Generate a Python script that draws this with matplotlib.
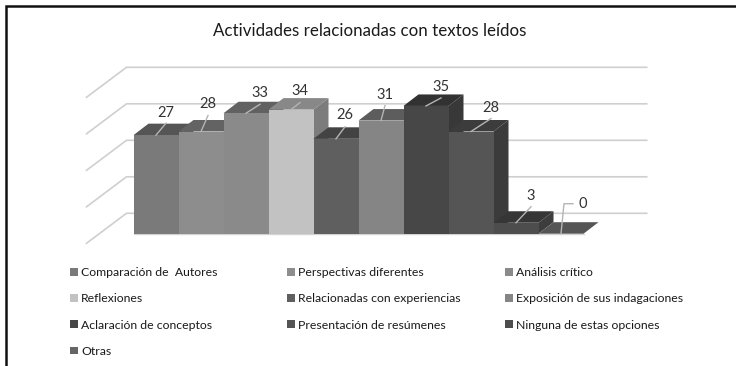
import matplotlib
matplotlib.use('Agg')
import matplotlib.pyplot as plt
from matplotlib.patches import Polygon, Rectangle

categories = ['Comparación de  Autores', 'Perspectivas diferentes', 'Análisis crítico',
              'Reflexiones', 'Relacionadas con experiencias', 'Exposición de sus indagaciones',
              'Aclaración de conceptos', 'Presentación de resúmenes', 'Ninguna de estas opciones',
              'Otras']
values = [27, 28, 33, 34, 26, 31, 35, 28, 3, 0]
grid_values = [0, 10, 20, 30, 40]

front_colors = ['#7a7a7a', '#8d8d8d', '#8a8a8a', '#c2c2c2', '#5f5f5f',
                '#858585', '#474747', '#555555', '#4d4d4d', '#666666']
top_colors = ['#555555', '#636363', '#616161', '#888888', '#434343',
              '#5d5d5d', '#323232', '#3c3c3c', '#363636', '#555555']
side_colors = ['#626262', '#6f6f6f', '#6d6d6d', '#7c7c7c', '#4c4c4c',
               '#6a6a6a', '#383838', '#3b3b3b', '#3d3d3d', '#525252']

# leader line bends and label centre, in pixels from the top centre of the bar front
label_paths = [
    [(10, 12), (10, 22)],
    [(7, 16), (7, 27)],
    [(14, 9), (14, 20)],
    [(9, 7), (9, 19)],
    [(9, 12), (9, 24)],
    [(4, 15), (4, 26)],
    [(15, 8), (15, 19)],
    [(20, 13), (20, 24)],
    [(15, 16), (15, 27)],
    [(3, 30), (12, 30), (22, 30)],
]

W, H = 736, 366
PX_X = 45.0   # pixels per category
PX_Y = 3.65   # pixels per value unit
LEFT = 133.5
BASE = 233.7
DEPTH_X = 15 / PX_X
DEPTH_Y = 11.5 / PX_Y
WALL_X = -7 / PX_X
WALL_Y = 20.4 / PX_Y
SIDE_X = -40 / PX_X
SIDE_Y = -30 / PX_Y
WALL_END = (646.7 - LEFT) / PX_X - 0.5

plt.rcParams['font.family'] = ['Lato', 'DejaVu Sans']

fig = plt.figure(figsize=(W / 100, H / 100), dpi=100, facecolor='white')
ax = fig.add_axes([0, 0, 1, 1])
x0 = -0.5 - LEFT / PX_X
y0 = -(H - BASE) / PX_Y
ax.set_xlim(x0, x0 + W / PX_X)
ax.set_ylim(y0, y0 + H / PX_Y)
ax.axis('off')

# black frame of the scan, only left and top are there
ax.plot([6 / W, 6 / W, 1], [0, 1 - 6 / H, 1 - 6 / H], transform=ax.transAxes,
        color='#111111', linewidth=1.8, clip_on=False, solid_joinstyle='miter')

# back wall and side wall gridlines
wall_x = -0.5 + WALL_X
for g in grid_values:
    wy = g + WALL_Y
    ax.plot([wall_x + SIDE_X, wall_x, WALL_END], [wy + SIDE_Y, wy, wy],
            color='#cfcfcf', linewidth=1.2, zorder=1)

# bars left to right, so each front covers the side of the bar before it
for i, v in enumerate(values):
    l, r = i - 0.5, i + 0.5
    z = 2 + i
    ax.add_patch(Polygon([(r, 0), (r + DEPTH_X, DEPTH_Y), (r + DEPTH_X, v + DEPTH_Y), (r, v)],
                         facecolor=side_colors[i], edgecolor='none', zorder=z))
    ax.add_patch(Polygon([(l, v), (l + DEPTH_X, v + DEPTH_Y), (r + DEPTH_X, v + DEPTH_Y), (r, v)],
                         facecolor=top_colors[i], edgecolor='none', zorder=z))
    ax.bar(i, v, width=1.0, color=front_colors[i], zorder=z + 0.5)

ax.plot([-0.5, 9.5], [0, 0], color='#d4d4d4', linewidth=1, zorder=1.5)

# data labels with leader lines
for i, v in enumerate(values):
    path = label_paths[i]
    xs = [i] + [i + p[0] / PX_X for p in path[:-1]]
    ys = [v] + [v + p[1] / PX_Y for p in path[:-1]]
    ax.plot(xs, ys, color='#b5b5b5', linewidth=1, zorder=20)
    ax.text(i + path[-1][0] / PX_X, v + path[-1][1] / PX_Y, str(v), ha='center', va='center',
            fontsize=10.5, color='#333333', zorder=21)

fig.text(369.5 / W, 1 - 31 / H, 'Actividades relacionadas con textos leídos', ha='center', va='center',
         fontsize=12.2, color='#1a1a1a')

# three legend columns, filled row by row in the original
handles = [Rectangle((0, 0), 1, 1, facecolor=c, edgecolor='none') for c in front_colors]
for col, lx in enumerate([70, 287, 505]):
    idx = list(range(col, len(categories), 3))
    leg = ax.legend([handles[j] for j in idx], [categories[j] for j in idx],
                    loc='upper left', bbox_to_anchor=(lx / W, 1 - 267 / H), bbox_transform=fig.transFigure,
                    frameon=False, fontsize=8.8, handlelength=0.62, handleheight=0.62,
                    handletextpad=0.3, labelspacing=1.25, borderpad=0, borderaxespad=0,
                    labelcolor='#1a1a1a')
    if col < 2:
        ax.add_artist(leg)

fig.savefig('out.png', dpi=100)
